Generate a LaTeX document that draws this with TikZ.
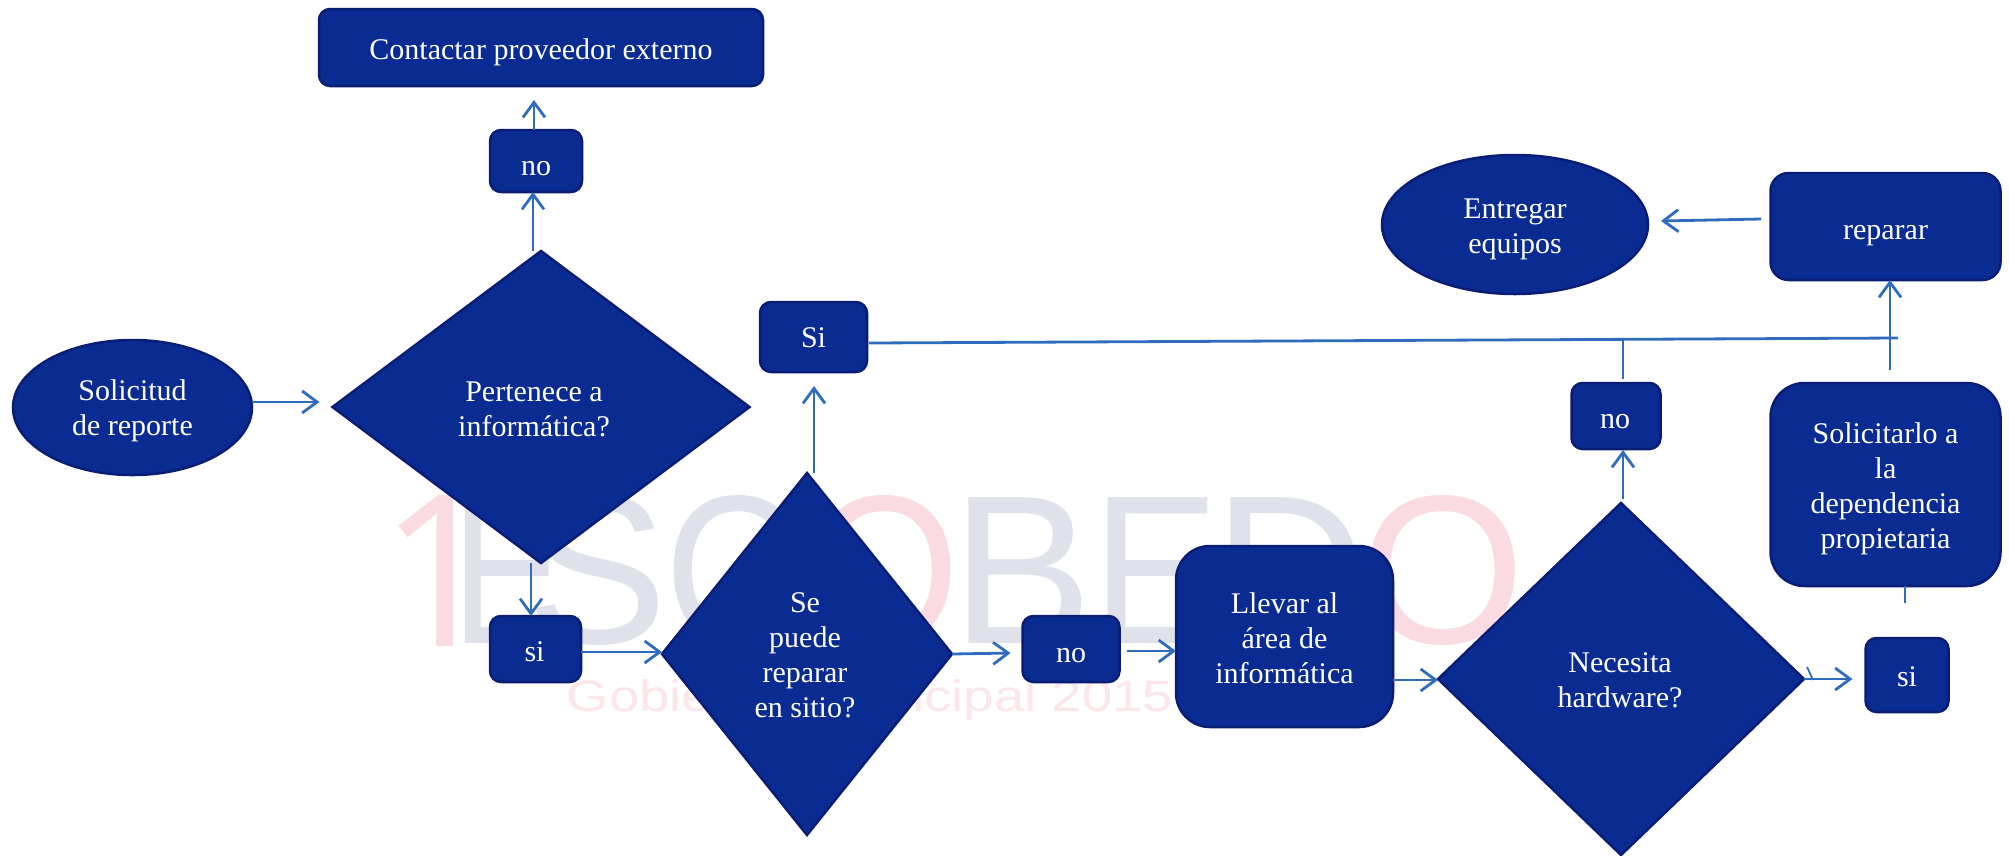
\documentclass[tikz,border=0pt]{standalone}
\usepackage{fontspec}
\setmainfont{Liberation Serif}
\newfontfamily\wmfont{Liberation Sans}
\newfontfamily\wmfontb{Open Sans}
\usetikzlibrary{arrows.meta,shapes.geometric}
\definecolor{boxfill}{HTML}{0A2C92}
\definecolor{boxline}{HTML}{0A1D74}
\definecolor{linkblue}{HTML}{2F6CBE}
\definecolor{wmgray}{HTML}{DFE2EA}
\definecolor{wmpink}{HTML}{FADBE1}
\newcommand{\labeltext}[3]{\raisebox{#2}[0pt][0pt]{\makebox[0pt][c]{\kern#1\kern#1\begin{tabular}{@{}c@{}}#3\end{tabular}}}}
\tikzset{
  shapebase/.style={fill=boxfill,draw=boxline,line width=2.5pt,inner sep=0pt,outer sep=0pt,text=white,font=\fontsize{30}{35}\selectfont},
  boxnode/.style={shapebase,rectangle,rounded corners=#1},
  boxnode/.default=11pt,
  oval/.style={shapebase,ellipse},
  decision/.style={shapebase,diamond},
  arr/.style={draw=linkblue,line width=2.8pt,-{Straight Barb[length=15pt,width=22pt,line width=2.8pt]}},
  plainlink/.style={draw=linkblue,line width=2.8pt},
  wmletter/.style={font=\wmfont\fontsize{212}{212}\selectfont,inner sep=0pt,anchor=center},
}
\begin{document}
\begin{tikzpicture}[x=1pt,y=-1pt]
\useasboundingbox (0,0) rectangle (2009,855);
\fill[white] (0,0) rectangle (2009,855);
% watermark
\node[wmletter,text=wmpink,font=\wmfontb\fontsize{212}{212}\selectfont] (w1) at (440,571) {1};
\node[wmletter,text=wmgray,transform shape,xscale=0.8] (w2) at (508,571) {E};
\node[wmletter,text=wmgray] (w3) at (597,571) {S};
\node[wmletter,text=wmgray,transform shape,xscale=0.9] (w4) at (733,571) {C};
\node[wmletter,text=wmpink,transform shape,xscale=0.92] (w5) at (884,571) {O};
\node[wmletter,text=wmgray] (w6) at (1022,571) {B};
\node[wmletter,text=wmgray,transform shape,xscale=0.9] (w7) at (1156,571) {E};
\node[wmletter,text=wmgray] (w8) at (1290,571) {D};
\node[wmletter,text=wmpink] (w9) at (1443,571) {O};
\node[inner sep=0pt,text=wmpink!70,font=\wmfont\fontsize{44}{44}\selectfont,transform shape,xscale=1.24] (w10) at (870,700) {Gobierno Municipal 2015};
% nodes
\node[oval,minimum width=239pt,minimum height=135pt] (sol) at (132.5,407.5) {\labeltext{0pt}{-10pt}{Solicitud\\de reporte}};
\node[decision,minimum width=417pt,minimum height=312pt,shape aspect=1.34] (d1) at (541,407) {\labeltext{-7pt}{-11pt}{Pertenece a\\informática?}};
\node[boxnode,minimum width=444pt,minimum height=77pt] (ext) at (541,47.5) {\labeltext{0pt}{-11pt}{Contactar proveedor externo}};
\node[boxnode,minimum width=92pt,minimum height=62pt] (no1) at (536,161) {\labeltext{0pt}{-14pt}{no}};
\node[boxnode,minimum width=91pt,minimum height=66pt] (si1) at (535.5,649) {\labeltext{-1pt}{-12pt}{si}};
\node[boxnode,minimum width=107pt,minimum height=70pt] (si2) at (813.5,337) {\labeltext{0pt}{-10pt}{Si}};
\node[decision,minimum width=290pt,minimum height=362pt,shape aspect=0.8] (d2) at (807,654) {\labeltext{-2pt}{-10pt}{Se\\puede\\reparar\\en sitio?}};
\node[boxnode,minimum width=97pt,minimum height=66pt] (no2) at (1071,649) {\labeltext{0pt}{-13pt}{no}};
\node[boxnode=34pt,minimum width=217pt,minimum height=181pt] (ll) at (1284.5,636.5) {\labeltext{0pt}{-11pt}{Llevar al\\área de\\informática}};
\node[decision,minimum width=366pt,minimum height=352pt,shape aspect=1.04] (d3) at (1621,679) {\labeltext{-1pt}{-10pt}{Necesita\\hardware?}};
\node[boxnode,minimum width=83pt,minimum height=74pt] (si3) at (1907,675) {\labeltext{0pt}{-11pt}{si}};
\node[boxnode,minimum width=89pt,minimum height=66pt] (no3) at (1616,416) {\labeltext{-1pt}{-12pt}{no}};
\node[boxnode=34pt,minimum width=230pt,minimum height=203pt] (sol2) at (1885.5,484.5) {\labeltext{0pt}{-11pt}{Solicitarlo a\\la\\dependencia\\propietaria}};
\node[boxnode=18pt,minimum width=230pt,minimum height=107pt] (rep) at (1885.5,226.5) {\labeltext{0pt}{-12pt}{reparar}};
\node[oval,minimum width=266pt,minimum height=139pt] (ent) at (1515,224.5) {\labeltext{0pt}{-11pt}{Entregar\\equipos}};
% free ends
\coordinate (mainend) at (1898,338);
\coordinate (noend) at (1623,340);
\coordinate (stubend) at (1905,603);
\coordinate (tickA) at (1807,667);
\coordinate (tickB) at (1813,680);
% connectors
\draw[arr] ([shift={(0,-5.5)}]sol.east) -- ([shift={(-13,-5)}]d1.west);
\draw[arr] ([shift={(-8,0)}]d1.north) -- ([shift={(-3,0)}]no1.south);
\draw[arr] ([shift={(-2,0)}]no1.north) -- ([shift={(-7,14)}]ext.south);
\draw[arr] ([shift={(-10,0)}]d1.south) -- ([shift={(-4.5,0)}]si1.north);
\draw[arr] ([shift={(0,3)}]si1.east) -- ([shift={(0,-2)}]d2.west);
\draw[arr] ([shift={(7,0)}]d2.north) -- ([shift={(0.5,14)}]si2.south);
\draw[plainlink] ([shift={(2,6)}]si2.east) -- (mainend);
\draw[arr] (d2.east) -- ([shift={(-12,4)}]no2.west);
\draw[arr] ([shift={(7,2)}]no2.east) -- ([shift={(0,14.5)}]ll.west);
\draw[arr] ([shift={(0,43.5)}]ll.east) -- ([shift={(0,1)}]d3.west);
\draw[arr] (d3.east) -- ([shift={(-13,4)}]si3.west);
\draw[plainlink,line width=1.8pt] (tickA) -- (tickB);
\draw[arr] ([shift={(2,-4)}]d3.north) -- ([shift={(7,1)}]no3.south);
\draw[plainlink] ([shift={(7,-4)}]no3.north) -- (noend);
\draw[arr] ([shift={(4.5,-13)}]sol2.north) -- ([shift={(4.5,0)}]rep.south);
\draw[arr] ([shift={(-9.4,-7.5)}]rep.west) -- ([shift={(13,-3.5)}]ent.east);
\draw[plainlink] ([shift={(19.5,0)}]sol2.south) -- (stubend);
\end{tikzpicture}
\end{document}
